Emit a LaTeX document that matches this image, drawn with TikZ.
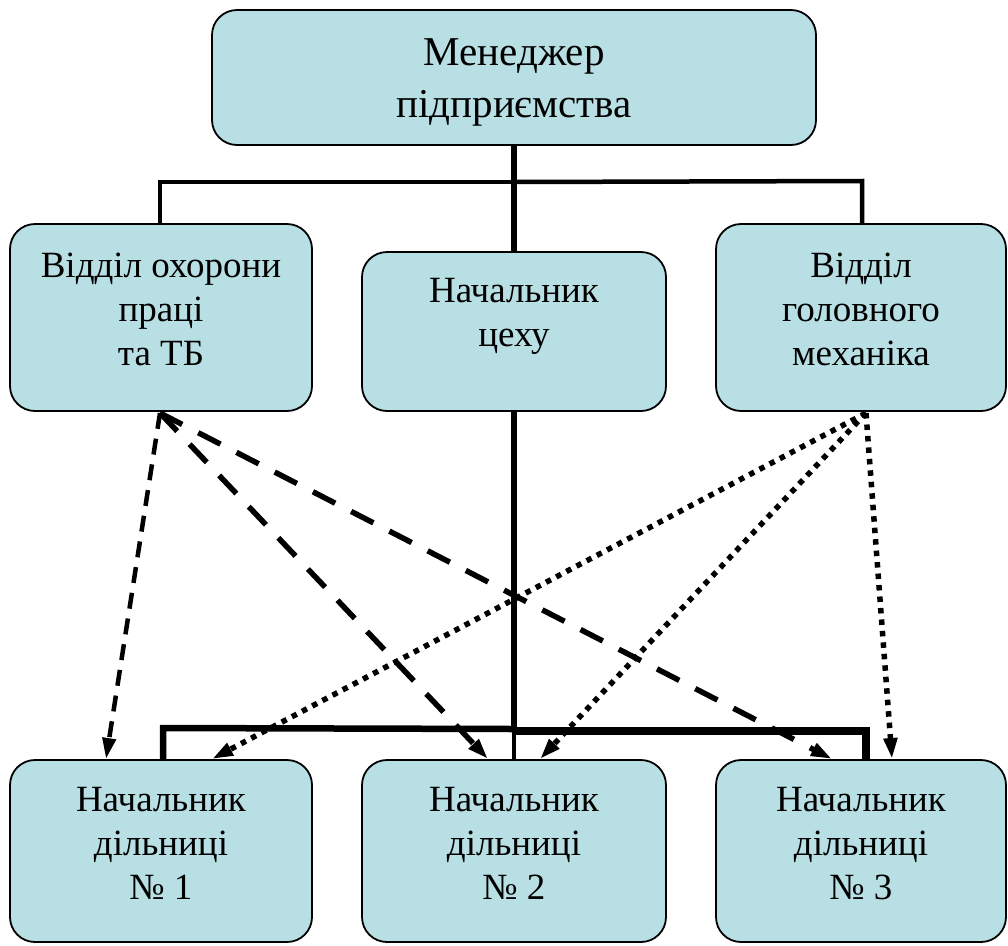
\documentclass[tikz,border=0pt]{standalone}
\usepackage{fontspec}
\setmainfont{Liberation Serif}
\usetikzlibrary{arrows.meta}
\definecolor{boxfill}{HTML}{B8DFE3}
\begin{document}
\begin{tikzpicture}[x=1pt,y=-1pt,
  box/.style={draw=black, line width=1.8pt, fill=boxfill, rounded corners=25pt, inner sep=0pt},
  txt/.style={font=\fontsize{37}{44}\selectfont, align=center, anchor=north, inner sep=0pt},
  toptxt/.style={font=\fontsize{41}{52}\selectfont, align=center, anchor=north, inner sep=0pt},
  tip/.style={-{Triangle[length=21pt,width=13pt]}},
  shortdash/.style={tip, line width=4.5pt, dash pattern=on 16pt off 10pt},
  longdash/.style={tip, line width=5.5pt, dash pattern=on 25pt off 18pt},
  dots/.style={tip, line width=5.5pt, dash pattern=on 5.5pt off 6pt},
]
\useasboundingbox (0,0) rectangle (1008,945);

% boxes
\node[box, minimum width=604pt, minimum height=135pt] (top) at (514,77.5) {};
\node[box, minimum width=302pt, minimum height=187pt] (m1) at (161,317.5) {};
\node[box, minimum width=304pt, minimum height=159pt] (m2) at (514,331.5) {};
\node[box, minimum width=290pt, minimum height=187pt] (m3) at (861,317.5) {};
\node[box, minimum width=302pt, minimum height=182pt] (b1) at (161,851) {};
\node[box, minimum width=304pt, minimum height=182pt] (b2) at (514,851) {};
\node[box, minimum width=290pt, minimum height=182pt] (b3) at (861,851) {};

% texts
\node[toptxt] (ttop) at (514,38) {Менеджер\\підприємства};
\node[txt] (tm1) at (161,253) {Відділ охорони\\праці\\та ТБ};
\node[txt] (tm2) at (514,278) {Начальник\\цеху};
\node[txt] (tm3) at (861,253) {Відділ\\головного\\механіка};
\node[txt] (tb1) at (161,787) {Начальник\\дільниці\\№ 1};
\node[txt] (tb2) at (514,787) {Начальник\\дільниці\\№ 2};
\node[txt] (tb3) at (861,787) {Начальник\\дільниці\\№ 3};

% upper tree
\coordinate (tl) at (160,182);
\coordinate (tc) at (514,182);
\coordinate (tr) at (862,181);
\draw[line width=6pt] (top.south) -- (m2.north);
\draw[line width=4.5pt] (m1.north -| tl) -- (tl) -- (tc);
\draw[line width=4.5pt] (tc) -- (tr) -- (m3.north -| tr);

% lower tree
\coordinate (bl) at (163,728);
\coordinate (bc) at (514,729);
\coordinate (br) at (866,731);
\draw[line width=6pt] (m2.south) -- (bc);
\draw[line width=3.5pt] (bc) -- (b2.north);
\draw[line width=6.5pt] (b1.north -| bl) -- (bl) -- (bc);
\draw[line width=7.5pt] (bc |- br) -- (br) -- (b3.north -| br);

% arrow ends
\coordinate (s1) at (160,413);
\coordinate (s3) at (866,413);
\coordinate (e1) at (106,759);
\coordinate (e2) at (488,759);
\coordinate (e3) at (832,759);
\coordinate (f1) at (212,759);
\coordinate (f2) at (540,759);
\coordinate (f3) at (892,759);

\draw[shortdash] (s1) -- (e1);
\draw[longdash] (s1) -- (e2);
\draw[longdash] (s1) -- (e3);
\draw[dots] (s3) -- (f1);
\draw[dots] (s3) -- (f2);
\draw[dots] (s3) -- (f3);
\end{tikzpicture}
\end{document}
